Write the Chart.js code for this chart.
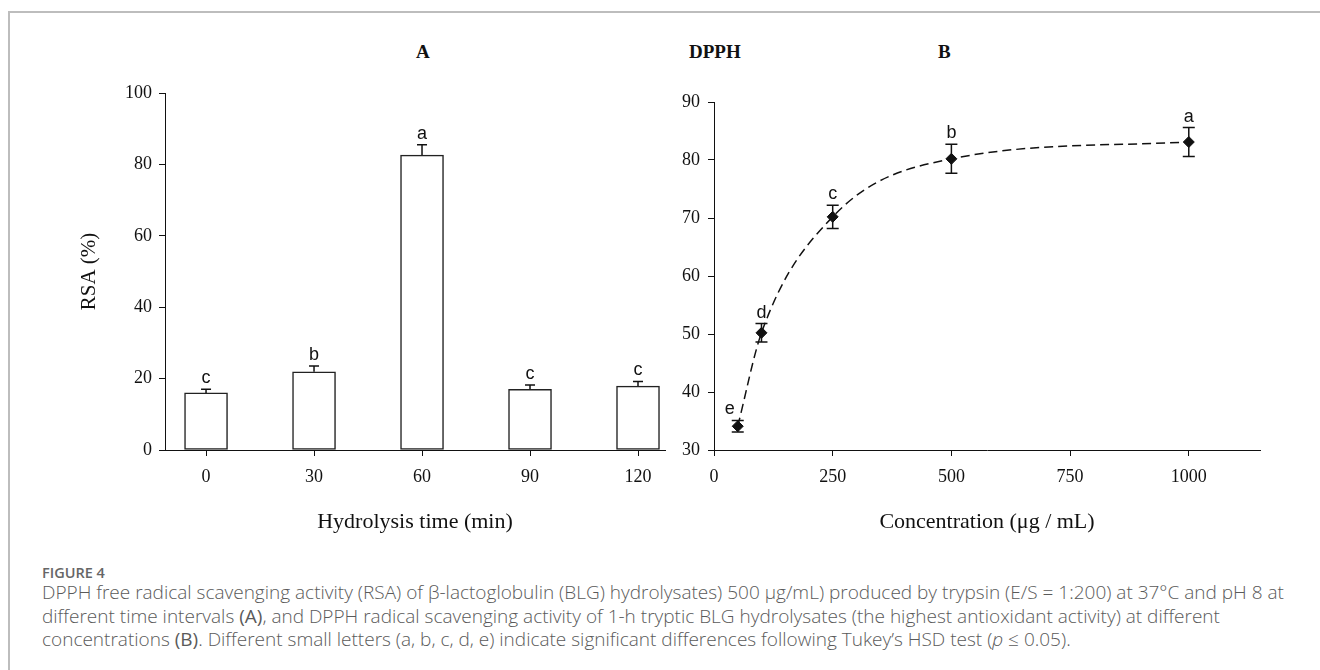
<!DOCTYPE html>
<html>
<head>
<meta charset="utf-8">
<script src="https://cdn.jsdelivr.net/npm/chart.js@4.4.1/dist/chart.umd.min.js"></script>
<style>
  body { margin: 0; background: #fff; width: 1320px; height: 670px; position: relative; overflow: hidden; }
  .frame { position: absolute; left: 8px; top: 11px; right: -10px; bottom: -10px;
           border-top: 2px solid #bdbdbd; border-left: 2px solid #bdbdbd; }
  canvas { position: absolute; }
  .ttl { position: absolute; font: bold 19px "Liberation Serif", "Times New Roman", serif; color: #111; line-height: 20px; }
  .cap { position: absolute; left: 42px; font-family: "Open Sans", "Noto Sans", sans-serif; color: #5a5a5a; white-space: nowrap; }
  .fig { top: 563px; font-size: 14.5px; font-weight: 600; color: #666; }
  .txt { top: 581px; font-size: 19px; line-height: 23.5px; font-weight: 300; }
</style>
</head>
<body>
<div class="frame"></div>
<div class="ttl" style="left:416px; top:42px;">A</div>
<div class="ttl" style="left:689px; top:42px;">DPPH</div>
<div class="ttl" style="left:938px; top:42px;">B</div>

<canvas id="chartA" width="640" height="500" style="left:40px; top:60px;"></canvas>
<canvas id="chartB" width="680" height="500" style="left:620px; top:60px;"></canvas>

<div class="cap fig">FIGURE 4</div>
<div class="cap txt">
  DPPH free radical scavenging activity (RSA) of β-lactoglobulin (BLG) hydrolysates) 500 μg/mL) produced by trypsin (E/S = 1:200) at 37°C and pH 8 at<br>
  different time intervals <b>(A)</b>, and DPPH radical scavenging activity of 1-h tryptic BLG hydrolysates (the highest antioxidant activity) at different<br>
  concentrations <b>(B)</b>. Different small letters (a, b, c, d, e) indicate significant differences following Tukey’s HSD test (<i>p</i> ≤ 0.05).
</div>

<script>
// ---- panel A: RSA vs hydrolysis time ----
const hydroTimes = [0, 30, 60, 90, 120];
const rsaValues = [16.0, 21.9, 82.6, 17.0, 17.9];
const rsaErrors = [1.0, 1.6, 2.9, 1.2, 1.3];
const rsaLetters = ["c", "b", "a", "c", "c"];
const rsaTicks = [0, 20, 40, 60, 80, 100];

// ---- panel B: DPPH vs concentration ----
const concValues = [50, 100, 250, 500, 1000];
const dpphValues = [34.1, 50.2, 70.2, 80.2, 83.1];
const dpphErrors = [1.0, 1.6, 2.0, 2.5, 2.5];
const dpphLetters = ["e", "d", "c", "b", "a"];
const concTicks = [0, 250, 500, 750, 1000];
const dpphTicks = [30, 40, 50, 60, 70, 80, 90];

const serif = '"Liberation Serif", "Times New Roman", serif';
const INK = "#111";

// error bars + significance letters, drawn after the datasets
function errorBarPlugin(values, errors, letters, both, cap) {
  return {
    id: "errorBars",
    afterDatasetsDraw(chart) {
      const { ctx } = chart;
      const y = chart.scales.y;
      const meta = chart.getDatasetMeta(0);
      ctx.save();
      ctx.strokeStyle = INK;
      ctx.fillStyle = INK;
      ctx.lineWidth = 1.5;
      ctx.font = '18px "Liberation Sans", Arial, sans-serif';
      ctx.textAlign = "center";
      ctx.textBaseline = "alphabetic";
      meta.data.forEach((el, i) => {
        const x = el.x;
        const top = y.getPixelForValue(values[i] + errors[i]);
        const bot = y.getPixelForValue(both ? values[i] - errors[i] : values[i]);
        ctx.beginPath();
        ctx.moveTo(x, top);
        ctx.lineTo(x, bot);
        ctx.moveTo(x - cap, top);
        ctx.lineTo(x + cap, top);
        if (both) {
          ctx.moveTo(x - cap, bot);
          ctx.lineTo(x + cap, bot);
        }
        ctx.stroke();
        // first letter in B sits left of the dashed curve
        const dx = both && i === 0 ? -8 : 0;
        ctx.fillText(letters[i], x + dx, top - 6);
      });
      ctx.restore();
    },
  };
}

const axisCommon = {
  offset: false,
  grid: { offset: false, drawOnChartArea: false, drawTicks: true, tickLength: 6, color: INK, lineWidth: 1 },
  border: { color: INK, width: 1 },
};
const tickFont = { family: serif, size: 18 };
const plain = (v) => String(v);

new Chart(document.getElementById("chartA"), {
  type: "bar",
  data: {
    datasets: [
      {
        data: hydroTimes.map((t, i) => ({ x: t, y: rsaValues[i] })),
        backgroundColor: "#fff",
        borderColor: "#222",
        borderWidth: 1.5,
        borderSkipped: false,
        barThickness: 43,
      },
    ],
  },
  options: {
    responsive: false,
    animation: false,
    layout: { padding: { left: 0, right: 15, top: 33, bottom: 0 } },
    plugins: { legend: { display: false }, tooltip: { enabled: false } },
    scales: {
      x: {
        type: "linear",
        min: -11.4,
        max: 127.5,
        ...axisCommon,
        afterBuildTicks: (s) => { s.ticks = hydroTimes.map((v) => ({ value: v })); },
        afterFit: (s) => { s.height = 110; },
        ticks: { color: INK, padding: 10, font: tickFont, callback: plain },
        title: {
          display: true,
          text: "Hydrolysis time (min)",
          color: INK,
          font: { family: serif, size: 22 },
          padding: { top: 0, bottom: 25 },
        },
      },
      y: {
        min: 0,
        max: 100,
        ...axisCommon,
        afterBuildTicks: (s) => { s.ticks = rsaTicks.map((v) => ({ value: v })); },
        afterFit: (s) => { s.width = 125; },
        ticks: { color: INK, padding: 7, font: tickFont, callback: plain },
        title: {
          display: true,
          text: "RSA (%)",
          color: INK,
          font: { family: serif, size: 21 },
          padding: { top: 37, bottom: 0 },
        },
      },
    },
  },
  plugins: [errorBarPlugin(rsaValues, rsaErrors, rsaLetters, false, 5)],
});

new Chart(document.getElementById("chartB"), {
  type: "line",
  data: {
    datasets: [
      {
        data: concValues.map((c, i) => ({ x: c, y: dpphValues[i] })),
        borderColor: INK,
        borderWidth: 1.5,
        borderDash: [9, 5],
        cubicInterpolationMode: "monotone",
        pointStyle: "rectRot",
        pointRadius: 5.5,
        pointBackgroundColor: INK,
        pointBorderColor: INK,
        pointBorderWidth: 1,
        fill: false,
      },
    ],
  },
  options: {
    responsive: false,
    animation: false,
    layout: { padding: { left: 0, right: 40, top: 42, bottom: 0 } },
    plugins: { legend: { display: false }, tooltip: { enabled: false } },
    scales: {
      x: {
        type: "linear",
        min: 0,
        max: 1150,
        ...axisCommon,
        afterBuildTicks: (s) => { s.ticks = concTicks.map((v) => ({ value: v })); },
        afterFit: (s) => { s.height = 110; },
        ticks: { color: INK, padding: 10, font: tickFont, callback: plain },
        title: {
          display: true,
          text: "Concentration (μg / mL)",
          color: INK,
          font: { family: serif, size: 22 },
          padding: { top: 0, bottom: 25 },
        },
      },
      y: {
        min: 30,
        max: 90,
        ...axisCommon,
        afterBuildTicks: (s) => { s.ticks = dpphTicks.map((v) => ({ value: v })); },
        afterFit: (s) => { s.width = 94; },
        ticks: { color: INK, padding: 8, font: tickFont, callback: plain },
      },
    },
  },
  plugins: [errorBarPlugin(dpphValues, dpphErrors, dpphLetters, true, 6)],
});
</script>
</body>
</html>
